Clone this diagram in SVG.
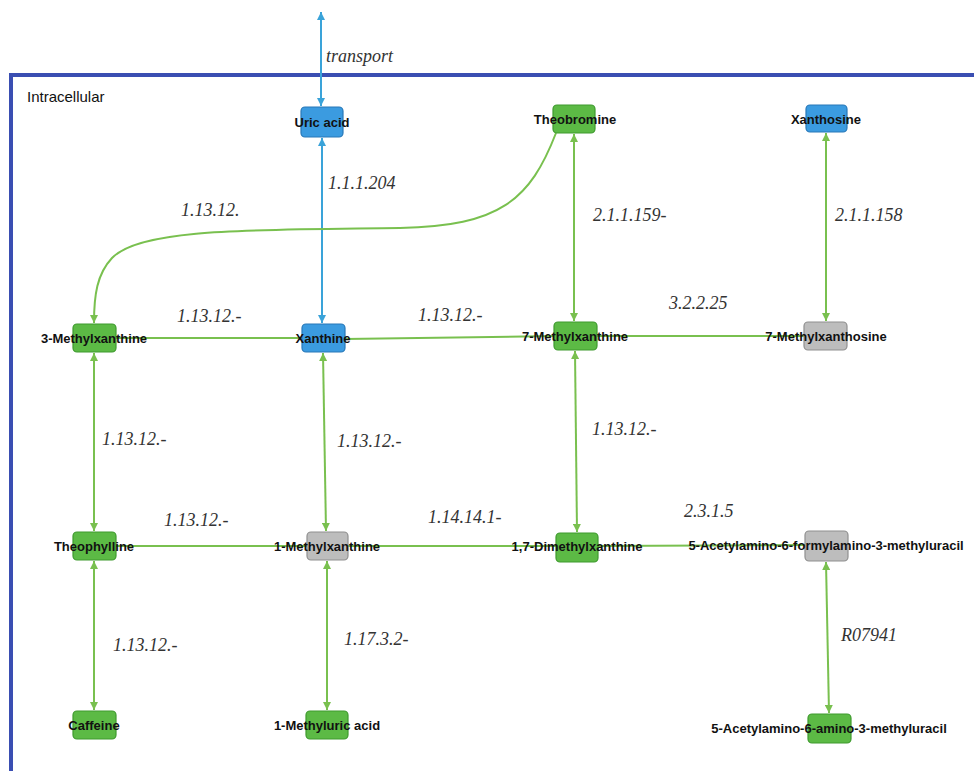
<svg xmlns="http://www.w3.org/2000/svg" width="974" height="771" viewBox="0 0 974 771">
<style>
.frame{fill:#ffffff;stroke:#3a4eb2;stroke-width:4}
.g{fill:#5cba45;stroke:#3e9a2e;stroke-width:1.2}
.b{fill:#3b9be0;stroke:#2878b8;stroke-width:1.2}
.y{fill:#bdbdbd;stroke:#8f8f8f;stroke-width:1.2}
.nl{font-family:"Liberation Sans",Arial,sans-serif;font-size:13px;font-weight:bold;fill:#111;text-anchor:middle}
.el{font-family:"Liberation Serif","Times New Roman",serif;font-size:18px;font-style:italic;fill:#333}
.cg{fill:none;stroke:#79c04f;stroke-width:2}
.cb{fill:none;stroke:#3aa3d9;stroke-width:2}
</style>
<defs>
<marker id="ag" viewBox="0 0 10 10" refX="10" refY="5" markerWidth="4" markerHeight="4" orient="auto-start-reverse"><path d="M0,0 L10,5 L0,10 z" fill="#79c04f"/></marker>
<marker id="ab" viewBox="0 0 10 10" refX="10" refY="5" markerWidth="4" markerHeight="4" orient="auto-start-reverse"><path d="M0,0 L10,5 L0,10 z" fill="#3aa3d9"/></marker>
</defs>
<rect x="0" y="0" width="974" height="771" fill="#ffffff"/>
<rect class="frame" x="11" y="75" width="1000" height="760"/>
<text x="27" y="102" font-family="'Liberation Sans',Arial,sans-serif" font-size="15" fill="#111">Intracellular</text>

<g id="connectors">
<line class="cb" x1="321" y1="106" x2="321" y2="12" marker-start="url(#ab)" marker-end="url(#ab)"/>
<line class="cb" x1="322" y1="138" x2="322" y2="323" marker-start="url(#ab)" marker-end="url(#ab)"/>
<path class="cg" d="M 556 133 C 530 200, 500 226, 400 228 C 250 230, 140 228, 112 258 C 97 274, 94 295, 94 323" marker-end="url(#ag)"/>
<line class="cg" x1="574" y1="134" x2="574" y2="321" marker-start="url(#ag)" marker-end="url(#ag)"/>
<line class="cg" x1="826" y1="133" x2="826" y2="321" marker-start="url(#ag)" marker-end="url(#ag)"/>
<line class="cg" x1="116" y1="338" x2="302" y2="338"/>
<line class="cg" x1="345" y1="339" x2="554" y2="336"/>
<line class="cg" x1="597" y1="336" x2="804" y2="336"/>
<line class="cg" x1="94" y1="353" x2="94" y2="531" marker-start="url(#ag)" marker-end="url(#ag)"/>
<line class="cg" x1="323" y1="353" x2="326" y2="531" marker-start="url(#ag)" marker-end="url(#ag)"/>
<line class="cg" x1="575" y1="351" x2="577" y2="532" marker-start="url(#ag)" marker-end="url(#ag)"/>
<line class="cg" x1="116" y1="546" x2="307" y2="546"/>
<line class="cg" x1="348" y1="546" x2="556" y2="546"/>
<line class="cg" x1="598" y1="546" x2="805" y2="545"/>
<line class="cg" x1="94" y1="561" x2="94" y2="710" marker-start="url(#ag)" marker-end="url(#ag)"/>
<line class="cg" x1="327" y1="561" x2="327" y2="710" marker-start="url(#ag)" marker-end="url(#ag)"/>
<line class="cg" x1="826" y1="562" x2="829" y2="713" marker-start="url(#ag)" marker-end="url(#ag)"/>
</g>

<g id="edge-labels">
<text class="el" x="326" y="62">transport</text>
<text class="el" x="328" y="189">1.1.1.204</text>
<text class="el" x="181" y="216">1.13.12.</text>
<text class="el" x="593" y="221">2.1.1.159-</text>
<text class="el" x="835" y="221">2.1.1.158</text>
<text class="el" x="177" y="322">1.13.12.-</text>
<text class="el" x="418" y="321">1.13.12.-</text>
<text class="el" x="669" y="309">3.2.2.25</text>
<text class="el" x="102" y="445">1.13.12.-</text>
<text class="el" x="337" y="447">1.13.12.-</text>
<text class="el" x="592" y="435">1.13.12.-</text>
<text class="el" x="164" y="526">1.13.12.-</text>
<text class="el" x="428" y="523">1.14.14.1-</text>
<text class="el" x="684" y="517">2.3.1.5</text>
<text class="el" x="113" y="651">1.13.12.-</text>
<text class="el" x="344" y="645">1.17.3.2-</text>
<text class="el" x="841" y="641">R07941</text>
</g>

<g id="uric-acid"><rect class="b" x="301" y="107" width="42" height="30" rx="4"/><text class="nl" x="322" y="127">Uric acid</text></g>
<g id="theobromine"><rect class="g" x="553" y="105" width="42" height="28" rx="4"/><text class="nl" x="575" y="124">Theobromine</text></g>
<g id="xanthosine"><rect class="b" x="806" y="105" width="41" height="27" rx="4"/><text class="nl" x="826" y="124">Xanthosine</text></g>
<g id="3-methylxanthine"><rect class="g" x="73" y="324" width="43" height="28" rx="4"/><text class="nl" x="94" y="343">3-Methylxanthine</text></g>
<g id="xanthine"><rect class="b" x="302" y="324" width="43" height="28" rx="4"/><text class="nl" x="323" y="343">Xanthine</text></g>
<g id="7-methylxanthine"><rect class="g" x="554" y="322" width="43" height="28" rx="4"/><text class="nl" x="575" y="341">7-Methylxanthine</text></g>
<g id="7-methylxanthosine"><rect class="y" x="804" y="322" width="43" height="28" rx="4"/><text class="nl" x="826" y="341">7-Methylxanthosine</text></g>
<g id="theophylline"><rect class="g" x="73" y="532" width="43" height="28" rx="4"/><text class="nl" x="94" y="551">Theophylline</text></g>
<g id="1-methylxanthine"><rect class="y" x="307" y="532" width="41" height="28" rx="4"/><text class="nl" x="327" y="551">1-Methylxanthine</text></g>
<g id="1-7-dimethylxanthine"><rect class="g" x="556" y="533" width="42" height="29" rx="4"/><text class="nl" x="577" y="551">1,7-Dimethylxanthine</text></g>
<g id="5-acetylamino-6-formylamino-3-methyluracil"><rect class="y" x="805" y="531" width="43" height="30" rx="4"/><text class="nl" x="826" y="550">5-Acetylamino-6-formylamino-3-methyluracil</text></g>
<g id="caffeine"><rect class="g" x="73" y="711" width="43" height="28" rx="4"/><text class="nl" x="94" y="730">Caffeine</text></g>
<g id="1-methyluric-acid"><rect class="g" x="306" y="711" width="42" height="28" rx="4"/><text class="nl" x="327" y="730">1-Methyluric acid</text></g>
<g id="5-acetylamino-6-amino-3-methyluracil"><rect class="g" x="808" y="714" width="43" height="29" rx="4"/><text class="nl" x="829" y="733">5-Acetylamino-6-amino-3-methyluracil</text></g>
</svg>
